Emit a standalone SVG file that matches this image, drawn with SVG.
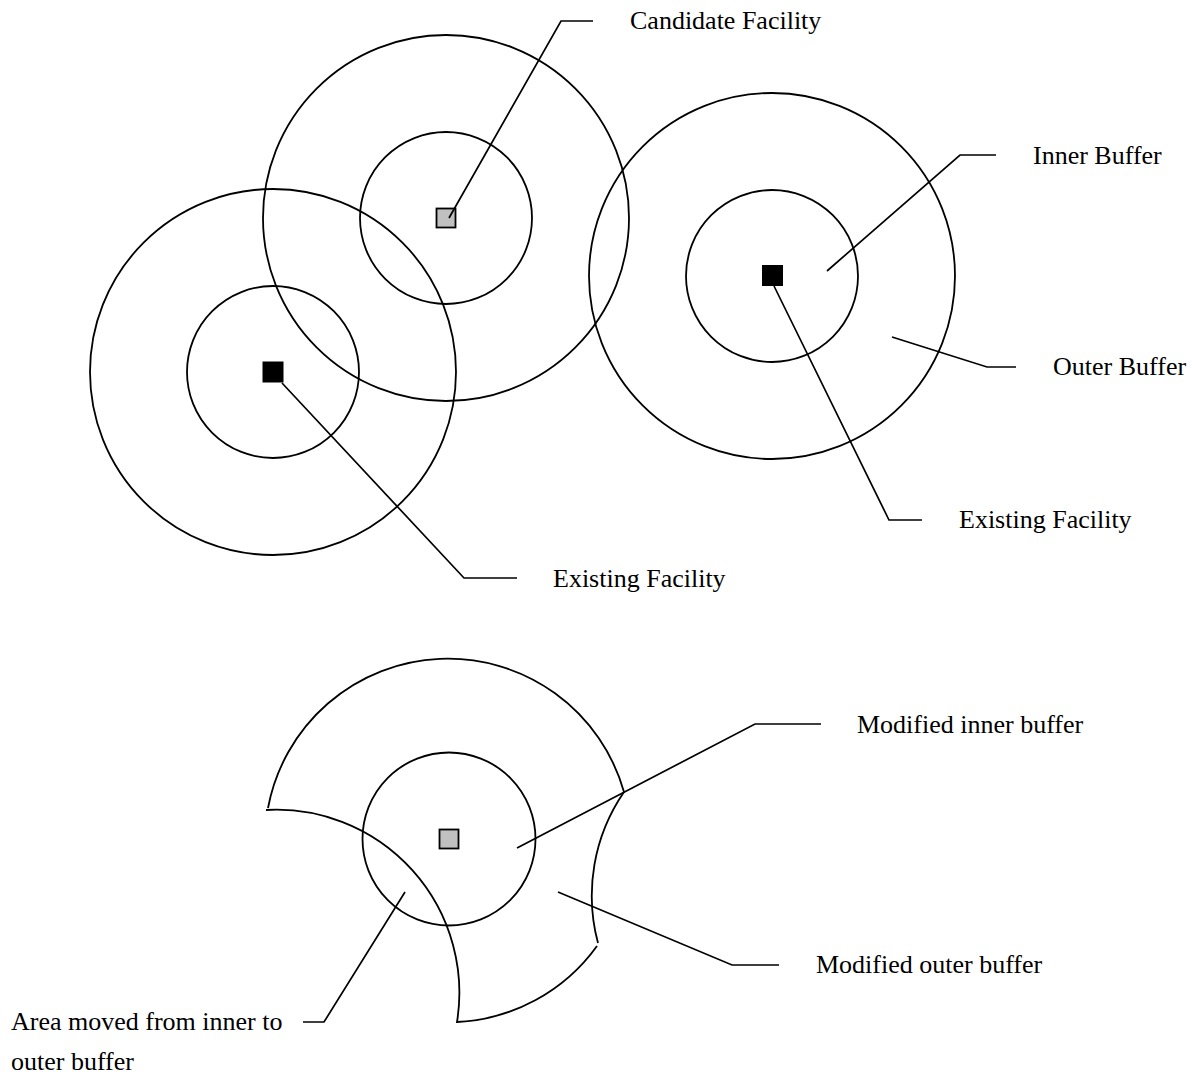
<svg xmlns="http://www.w3.org/2000/svg" width="1202" height="1081" viewBox="0 0 1202 1081">
  <style>
    .ring { fill: none; stroke: #000; stroke-width: 1.8; }
    .lead { fill: none; stroke: #000; stroke-width: 1.7; }
    .existing { fill: #000; stroke: #000; stroke-width: 1; }
    .candidate { fill: #c0c0c0; stroke: #000; stroke-width: 1.8; }
    .label { font-family: "Liberation Serif", "Times New Roman", serif; font-size: 26px; fill: #000; }
  </style>
  <rect x="0" y="0" width="1202" height="1081" fill="#fff"/>

  <!-- Upper scene: existing facilities and a candidate with inner/outer buffers -->
  <g id="facility-left">
    <circle class="ring" cx="273" cy="372" r="183"/>
    <circle class="ring" cx="273" cy="372" r="86"/>
    <rect class="existing" x="263" y="362" width="20" height="20"/>
  </g>
  <g id="facility-candidate">
    <circle class="ring" cx="446" cy="218" r="183"/>
    <circle class="ring" cx="446" cy="218" r="86"/>
    <rect class="candidate" x="436.5" y="208.5" width="19" height="19"/>
  </g>
  <g id="facility-right">
    <circle class="ring" cx="772" cy="276" r="183"/>
    <circle class="ring" cx="772" cy="276" r="86"/>
    <rect class="existing" x="762.5" y="265.5" width="20" height="20"/>
  </g>

  <!-- Lower scene: candidate buffers after overlap with neighbours -->
  <g id="modified-candidate">
    <path class="ring" d="M 268 808 A 183 183 0 0 1 624 792 A 183 183 0 0 0 598 943"/>
    <path class="ring" d="M 597 946 A 183 183 0 0 1 457 1022 A 183 183 0 0 0 266 810"/>
    <circle class="ring" cx="449" cy="839" r="86.5"/>
    <rect class="candidate" x="439.5" y="829.5" width="19" height="19"/>
  </g>

  <!-- Leader lines -->
  <g id="connectors">
    <polyline class="lead" points="449,218 561,21 593,21"/>
    <polyline class="lead" points="827,271 960,155 996,155"/>
    <polyline class="lead" points="892,337 987,367 1016,367"/>
    <polyline class="lead" points="774,286 889,520 922,520"/>
    <polyline class="lead" points="282,383 464,578 517,578"/>
    <polyline class="lead" points="517,848 755,724 821,724"/>
    <polyline class="lead" points="558,892 732,965 779,965"/>
    <polyline class="lead" points="405,892 324,1022 303,1022"/>
  </g>

  <!-- Labels -->
  <g id="labels">
    <text class="label" x="630" y="29">Candidate Facility</text>
    <text class="label" x="1033" y="164">Inner Buffer</text>
    <text class="label" x="1053" y="375">Outer Buffer</text>
    <text class="label" x="959" y="528">Existing Facility</text>
    <text class="label" x="553" y="587">Existing Facility</text>
    <text class="label" x="857" y="733">Modified inner buffer</text>
    <text class="label" x="816" y="973">Modified outer buffer</text>
    <text class="label" x="11" y="1030">Area moved from inner to</text>
    <text class="label" x="11" y="1070">outer buffer</text>
  </g>
</svg>
